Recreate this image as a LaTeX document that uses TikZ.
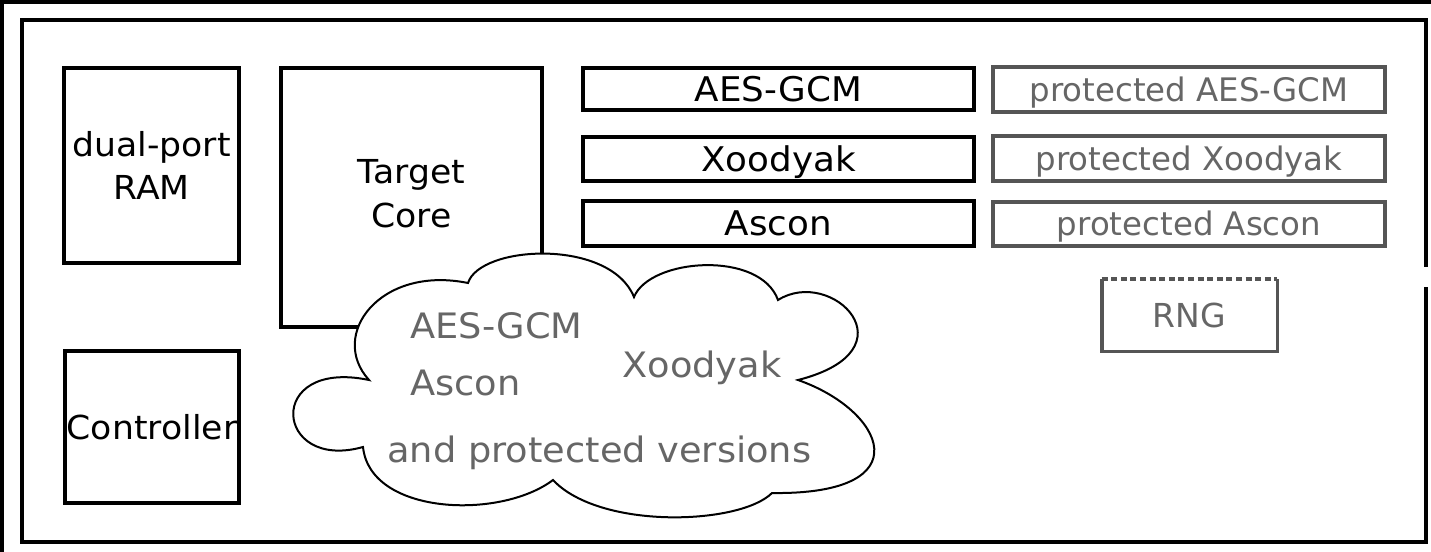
\documentclass[tikz,border=0pt]{standalone}
\usepackage{fontspec}
\setmainfont{DejaVu Sans}
\newfontfamily\widefont{DejaVu Sans}[FakeStretch=1.05]
\definecolor{edgegray}{HTML}{555555}
\definecolor{textgray}{HTML}{666666}
\begin{document}
\begin{tikzpicture}[x=0.5pt,y=-0.5pt,
  blk/.style={draw=black, line width=1.9pt, inner sep=0pt, text=black,
    font=\widefont\fontsize{16.5}{21.5}\selectfont, align=center},
  alg/.style={draw=black, line width=1.9pt, inner sep=0pt, text=black,
    font=\widefont\fontsize{17}{20}\selectfont, text height=12.4pt, text depth=0pt,
    minimum width=195.5pt},
  prot/.style={draw=edgegray, line width=1.9pt, inner sep=0pt, text=textgray,
    font=\fontsize{16.2}{19}\selectfont, text height=11.8pt, text depth=0pt,
    minimum width=196pt},
  cloudtxt/.style={text=textgray, inner sep=0pt, anchor=base west,
    font=\widefont\fontsize{17.5}{21}\selectfont},
]
% page background and outer frame
\useasboundingbox (0,0) rectangle (1431,552);
\fill[black] (0,0) rectangle (1431,552);
\fill[white] (4,4) rectangle (1431,552);
\draw[line width=1.7pt] (22,20) rectangle (1426,542);

% memory, core and controller
\node[blk, minimum width=87.5pt, minimum height=97.5pt] (ram) at (151.5,165.5) {dual-port\\RAM};
\node[blk, minimum width=130.5pt, minimum height=129.5pt] (core) at (411.5,197.5) {};
\node[text=black, inner sep=0pt, align=center,
  font=\widefont\fontsize{16.5}{22}\selectfont] (corelabel) at (411.5,194) {Target\\Core};
\node[blk, minimum width=87pt, minimum height=76pt] (ctrl) at (152,427) {Controller};

% cipher cores
\node[alg, minimum height=21pt] (aes) at (778.5,89) {AES-GCM};
\node[alg, minimum height=22pt] (xoo) at (778.5,159) {Xoodyak};
\node[alg, minimum height=22.5pt] (asc) at (778.5,223.5) {Ascon};

% protected cipher cores
\node[prot, minimum height=22.5pt] (paes) at (1189,89.5) {protected AES-GCM};
\node[prot, minimum height=22.5pt] (pxoo) at (1189,158.5) {protected Xoodyak};
\node[prot, minimum height=22pt] (pasc) at (1189,224) {protected Ascon};

% random number generator
\node[inner sep=0pt, minimum width=87.5pt, minimum height=36pt, text=textgray,
  font=\fontsize{16.5}{20}\selectfont] (rng) at (1189.5,315) {RNG};
\draw[edgegray, line width=1.9pt] (rng.north west) -- (rng.south west)
  -- (rng.south east) -- (rng.north east);
\draw[edgegray, line width=1.9pt, dash pattern=on 3pt off 1.8pt]
  (rng.north west) -- (rng.north east);
\fill[white] (1419,267) rectangle (1431,287);

% cloud of cipher variants
\filldraw[fill=white, draw=black, line width=1pt]
  (468,283) .. controls (480,245) and (610,238) .. (634,297)
  .. controls (650,258) and (760,250) .. (778,300)
  .. controls (832,266) and (916,350) .. (798,380)
  .. controls (884,410) and (924,495) .. (772,493)
  .. controls (740,525) and (600,530) .. (553,480)
  .. controls (500,520) and (370,515) .. (363,447)
  .. controls (274,472) and (264,358) .. (369,380)
  .. controls (328,335) and (380,265) .. cycle;
\node[cloudtxt] (caes) at (410,338) {AES-GCM};
\node[cloudtxt] (casc) at (410,395) {Ascon};
\node[cloudtxt] (cxoo) at (622,377) {Xoodyak};
\node[cloudtxt] (cprot) at (387,462) {and protected versions};
\end{tikzpicture}
\end{document}
